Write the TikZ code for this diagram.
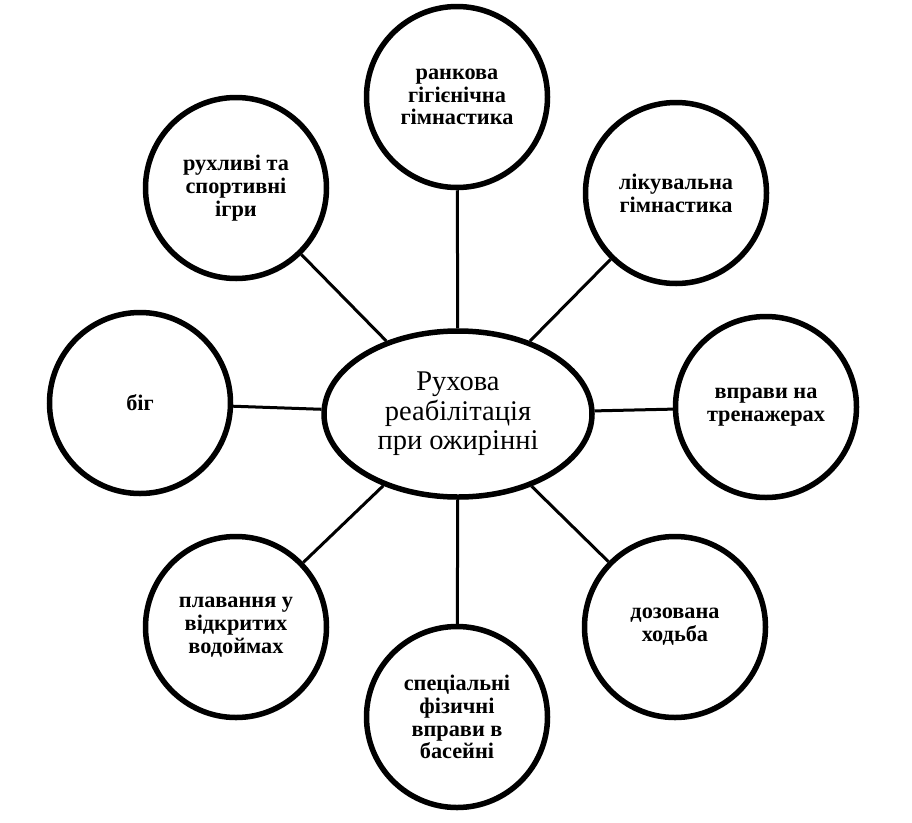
\documentclass[tikz,border=0pt]{standalone}
\usepackage{fontspec}
\setmainfont{Liberation Serif}
\usetikzlibrary{shapes.geometric,shadows}
\begin{document}
\begin{tikzpicture}[x=1pt,y=-1pt,
  topic/.style={circle,draw=black,line width=5.5pt,fill=white,minimum size=181pt,inner sep=0pt,
    align=center,font=\fontsize{22.3}{22.8}\selectfont\bfseries,
    drop shadow={shadow xshift=1.5pt,shadow yshift=-2.5pt,opacity=0.18,fill=black}},
  hub/.style={ellipse,draw=black,line width=5.5pt,fill=white,minimum width=268pt,minimum height=166pt,
    inner sep=0pt,align=center,font=\fontsize{28.5}{29.5}\selectfont,
    drop shadow={shadow xshift=1.5pt,shadow yshift=-2.5pt,opacity=0.18,fill=black}},
  link/.style={line width=3pt,draw=black}]
\useasboundingbox (0,0) rectangle (912,822);
\node[hub] (e) at (458,414) {Рухова\\реабілітація\\при ожирінні};
\node[topic] (n1) at (457,97) {ранкова\\гігієнічна\\гімнастика};
\node[topic] (n2) at (676,193) {лікувальна\\гімнастика};
\node[topic] (n3) at (766,407) {вправи на\\тренажерах};
\node[topic] (n4) at (675,627) {дозована\\ходьба};
\node[topic] (n5) at (457,717) {спеціальні\\фізичні\\вправи в\\басейні};
\node[topic] (n6) at (236,627) {плавання у\\відкритих\\водоймах};
\node[topic] (n7) at (140,403) {біг};
\node[topic] (n8) at (236,188) {рухливі та\\спортивні\\ігри};
\foreach \n in {n1,n2,n3,n4,n5,n6,n7,n8}{\draw[link] (e) -- (\n);}
\end{tikzpicture}
\end{document}
